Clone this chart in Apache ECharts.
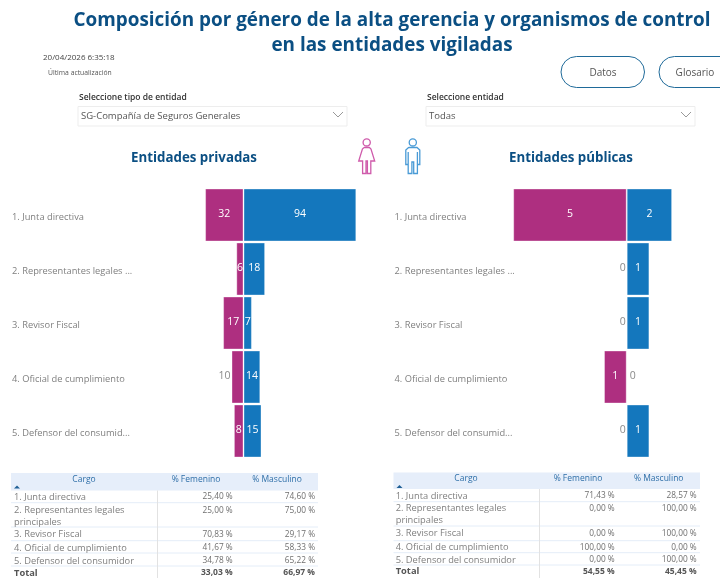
<!DOCTYPE html>
<html>
<head>
<meta charset="utf-8">
<style>html,body{margin:0;padding:0;background:#fff}#c{width:720px;height:578px}</style>
<script src="https://cdn.jsdelivr.net/npm/echarts@6/dist/echarts.min.js"></script>
</head>
<body>
<div id="c"></div>
<script>
var categories = ['1. Junta directiva','2. Representantes legales ...','3. Revisor Fiscal','4. Oficial de cumplimiento','5. Defensor del consumid...'];
var privadasFem = [32,6,17,10,8];
var privadasMasc = [94,18,7,14,15];
var publicasFem = [5,0,0,1,0];
var publicasMasc = [2,1,1,0,1];
var cargos = ['1. Junta directiva','2. Representantes legales\nprincipales','3. Revisor Fiscal','4. Oficial de cumplimiento','5. Defensor del consumidor'];
var pctPrivFem = [25.40,25.00,70.83,41.67,34.78];
var pctPrivMasc = [74.60,75.00,29.17,58.33,65.22];
var pctPubFem = [71.43,0,0,100,0];
var pctPubMasc = [28.57,100,100,0,100];
var totalPriv = [33.03,66.97];
var totalPub = [54.55,45.45];
var tableHeaders = ['Cargo','% Femenino','% Masculino'];

var FONT = '"Open Sans", sans-serif';
var MAGENTA = '#ae2f80', BLUE = '#1477bd', NAVY = '#0b4f83', GREY = '#7f7f7f';

function barData(values, sign, color, outside, outPos) {
  return values.map(function (v, i) {
    var out = outside.indexOf(i) >= 0;
    return {
      value: sign * v,
      itemStyle: {color: color, borderWidth: v === 0 ? 0 : 1, borderColor: 'rgba(255,255,255,0.35)'},
      label: {
        show: true,
        position: out ? outPos : 'inside',
        distance: outPos === 'left' ? 1 : 3,
        offset: [0, -0.5],
        color: out ? '#8a8a8a' : '#fff',
        fontFamily: FONT, fontSize: 10.5, fontWeight: out ? 400 : 500,
        formatter: function (p) { return String(Math.abs(p.value)); }
      }
    };
  });
}
function barSeries(idx, fem, masc, femOut, mascOut) {
  return [
    {name: 'Femenino', type: 'bar', barGap: '-100%', xAxisIndex: idx, yAxisIndex: idx, barWidth: 53, data: barData(fem, -1, MAGENTA, femOut, 'left')},
    {name: 'Masculino', type: 'bar', barGap: '-100%', xAxisIndex: idx, yAxisIndex: idx, barWidth: 53, data: barData(masc, 1, BLUE, mascOut, 'right')}
  ];
}
function yAxis(idx, margin) {
  return {type: 'category', gridIndex: idx, inverse: true, data: categories,
    axisLine: {show: false}, axisTick: {show: false}, splitLine: {show: false},
    axisLabel: {align: 'left', verticalAlign: 'top', lineHeight: 4, margin: margin, color: GREY, fontFamily: FONT, fontSize: 9.3, interval: 0}};
}
function xAxis(idx, min, max) {
  return {type: 'value', gridIndex: idx, min: min, max: max, show: false, splitLine: {show: false}};
}
function fmt(v) { return v.toFixed(2).replace('.', ',') + ' %'; }

function text(x, y, s, o) {
  o = o || {};
  return {type: 'text', x: x, y: y, silent: true, style: {
    text: s, fontFamily: FONT, fontSize: o.size || 9.3, fontWeight: o.weight || 400,
    fill: o.color || GREY, align: o.align || 'left', verticalAlign: 'middle', lineHeight: o.lh || 12}};
}
function line(x1, y1, x2, y2, color, w) {
  return {type: 'line', silent: true, shape: {x1: x1, y1: y1, x2: x2, y2: y2}, style: {stroke: color, lineWidth: w || 1}};
}
function table(t) {
  var els = [];
  els.push({type: 'rect', silent: true, shape: {x: t.x0, y: t.headTop, width: t.x1 - t.x0, height: t.headH}, style: {fill: '#e6eefa'}});
  els.push(text(t.cargoX, t.headY, tableHeaders[0], {align: 'center', color: '#2f6fa8', size: 8.5}));
  els.push(text(t.femX, t.headY, tableHeaders[1], {align: 'center', color: '#2f6fa8', size: 8.5}));
  els.push(text(t.mascX, t.headY, tableHeaders[2], {align: 'center', color: '#2f6fa8', size: 8.5}));
  els.push({type: 'polygon', silent: true, shape: {points: [[t.x0 + 3, t.headTop + 15.5], [t.x0 + 9, t.headTop + 15.5], [t.x0 + 6, t.headTop + 12.5]]}, style: {fill: '#1f5f95'}});
  t.seps.forEach(function (y) { els.push(line(t.x0, y, t.x1, y, '#e4edf8')); });
  els.push(line(t.vx, t.headTop + t.headH, t.vx, 578, '#e2e2e2'));
  cargos.forEach(function (c, i) {
    els.push(text(t.textX, t.rowY[i] + (c.indexOf('\n') > 0 ? 6 : 0), c, {lh: 12}));
    els.push(text(t.femR, t.rowY[i], fmt(t.fem[i]), {align: 'right', color: '#6f6f6f', size: 8.3}));
    els.push(text(t.mascR, t.rowY[i], fmt(t.masc[i]), {align: 'right', color: '#6f6f6f', size: 8.3}));
  });
  els.push(text(t.textX, t.totalY, 'Total', {weight: 700, color: '#555'}));
  els.push(text(t.femR, t.totalY, fmt(t.total[0]), {align: 'right', weight: 700, color: '#555', size: 8.5}));
  els.push(text(t.mascR, t.totalY, fmt(t.total[1]), {align: 'right', weight: 700, color: '#555', size: 8.5}));
  return els;
}
function button(x, w, label, cx) {
  return [
    {type: 'rect', silent: true, shape: {x: x, y: 56.5, width: w, height: 31, r: 15.5}, style: {fill: '#fff', stroke: '#1f6a99', lineWidth: 1}},
    text(cx, 73, label, {align: 'center', size: 10, color: '#555'})
  ];
}
function select(x, w, caption, value) {
  return [
    text(x + 1, 97.5, caption, {size: 8.5, weight: 600, color: '#333'}),
    {type: 'rect', silent: true, shape: {x: x, y: 106.5, width: w, height: 19.5}, style: {fill: '#fff', stroke: '#ededed', lineWidth: 1}},
    text(x + 3, 116.5, value, {size: 9.5, color: '#555'}),
    {type: 'polyline', silent: true, shape: {points: [[x + w - 14, 112], [x + w - 9, 117], [x + w - 4, 112]]}, style: {stroke: '#999', fill: 'none', lineWidth: 1}}
  ];
}
function stroke(points, color) {
  return {type: 'polyline', silent: true, shape: {points: points}, style: {stroke: color, fill: 'none', lineWidth: 1.3}};
}
function head(cx, cy, color) {
  return {type: 'circle', silent: true, shape: {cx: cx, cy: cy, r: 3.6}, style: {stroke: color, fill: 'none', lineWidth: 1.3}};
}
var PINK = '#cf5bab', SKY = '#4a9bd6';
var iconWoman = [
  head(366.7, 142.4, PINK),
  stroke([[364, 147.5], [369.4, 147.5], [371, 149], [374.7, 161], [370.8, 161], [370.8, 173.5], [367.4, 173.5], [367.4, 161], [366, 161], [366, 173.5], [362.6, 173.5], [362.6, 161], [358.7, 161], [362.4, 149], [364, 147.5]], PINK)
];
var iconMan = [
  head(412.8, 142.4, SKY),
  stroke([[408.6, 147.5], [417, 147.5], [419.8, 150], [419.8, 164.5], [417.4, 164.5], [417.4, 152], [417.4, 173.5], [413.7, 173.5], [413.7, 162], [411.9, 162], [411.9, 173.5], [408.2, 173.5], [408.2, 152], [408.2, 164.5], [405.8, 164.5], [405.8, 150], [408.6, 147.5]], SKY)
];

var tableLeft = table({x0: 11, x1: 318, headTop: 473, headH: 17.5, headY: 480, cargoX: 84, femX: 196, mascX: 277,
  seps: [502.7, 527, 540.7, 553, 566], vx: 157.5, textX: 14, femR: 232.7, mascR: 315,
  rowY: [497, 510.5, 534.7, 548, 561], totalY: 573, fem: pctPrivFem, masc: pctPrivMasc, total: totalPriv});
var tableRight = table({x0: 393.5, x1: 700, headTop: 472.5, headH: 16.5, headY: 479, cargoX: 466, femX: 578, mascX: 658.7,
  seps: [501.7, 526, 540.7, 552.7, 565], vx: 539.5, textX: 395.7, femR: 614.7, mascR: 696.7,
  rowY: [496, 508.7, 533.3, 547.3, 560], totalY: 571.7, fem: pctPubFem, masc: pctPubMasc, total: totalPub});

var chart = echarts.init(document.getElementById('c'), null, {renderer: 'canvas'});
chart.setOption({
  animation: false,
  title: [
    {text: 'Composición por género de la alta gerencia y organismos de control\nen las entidades vigiladas', left: 392, top: 8, padding: 0, textAlign: 'center',
      textStyle: {fontFamily: FONT, fontSize: 18.9, fontWeight: 700, color: NAVY, lineHeight: 25}},
    {text: 'Entidades privadas', left: 194, top: 151.5, padding: 0, textAlign: 'center', textStyle: {fontFamily: FONT, fontSize: 13.3, fontWeight: 700, color: NAVY}},
    {text: 'Entidades públicas', left: 571, top: 151.5, padding: 0, textAlign: 'center', textStyle: {fontFamily: FONT, fontSize: 13.3, fontWeight: 700, color: NAVY}}
  ],
  grid: [
    {left: 123.5, width: 240, top: 188, height: 270},
    {left: 490.5, width: 227, top: 188, height: 270}
  ],
  xAxis: [xAxis(0, -100, 100), xAxis(1, -6, 4)],
  yAxis: [yAxis(0, 111.5), yAxis(1, 96)],
  series: barSeries(0, privadasFem, privadasMasc, [3], [])
    .concat(barSeries(1, publicasFem, publicasMasc, [1, 2, 4], [3])),
  graphic: {elements: [].concat(
    [text(43, 58, '20/04/2026 6:35:18', {size: 8, color: '#444'}),
     text(48, 73, 'Última actualización', {size: 6.8, color: '#555'})],
    button(561, 83.5, 'Datos', 603), button(659, 84, 'Glosario', 695),
    select(78, 269, 'Seleccione tipo de entidad', 'SG-Compañía de Seguros Generales'),
    select(426, 269, 'Seleccione entidad', 'Todas'),
    iconWoman, iconMan,
    tableLeft, tableRight
  )}
});
</script>
</body>
</html>
